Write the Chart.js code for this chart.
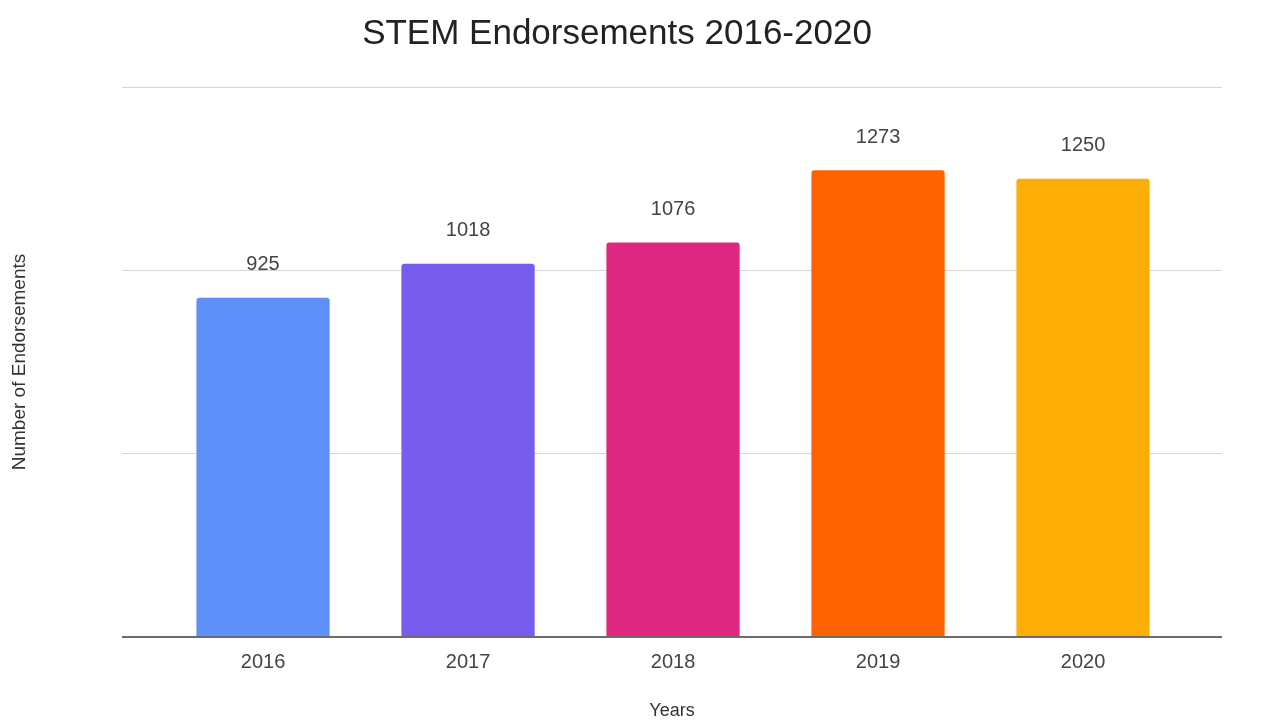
<!DOCTYPE html>
<html>
<head>
<meta charset="utf-8">
<script src="https://cdn.jsdelivr.net/npm/chart.js@4/dist/chart.umd.min.js"></script>
<style>
  html, body { margin: 0; padding: 0; background: #fff; }
  #wrap { width: 1266px; height: 722px; }
</style>
</head>
<body>
<div id="wrap"><canvas id="chart"></canvas></div>
<script>
const years = [2016, 2017, 2018, 2019, 2020];
const endorsements = [925, 1018, 1076, 1273, 1250];
const barColors = ["#5f8ff9", "#775ced", "#de2780", "#ff6200", "#fdae06"];
const yTicks = [0, 500, 1000, 1500];

const FONT = "'Liberation Sans', Arial, sans-serif";

// title drawn by hand so it can sit slightly left of centre like the original
const titlePlugin = {
  id: "stemTitle",
  afterDraw(chart) {
    const { ctx } = chart;
    ctx.save();
    ctx.font = `35px ${FONT}`;
    ctx.fillStyle = "#222";
    ctx.textAlign = "center";
    ctx.textBaseline = "middle";
    ctx.fillText("STEM Endorsements 2016-2020", 617, 34);
    ctx.restore();
  },
};

const valueLabels = {
  id: "valueLabels",
  afterDatasetsDraw(chart) {
    const { ctx } = chart;
    const meta = chart.getDatasetMeta(0);
    ctx.save();
    ctx.font = `20px ${FONT}`;
    ctx.fillStyle = "#444";
    ctx.textAlign = "center";
    ctx.textBaseline = "middle";
    meta.data.forEach((bar, i) => {
      ctx.fillText(String(endorsements[i]), bar.x, bar.y - 33);
    });
    ctx.restore();
  },
};

const ctx = document.getElementById("chart").getContext("2d");

new Chart(ctx, {
  type: "bar",
  data: {
    datasets: [
      {
        label: "Endorsements",
        data: years.map((y, i) => ({ x: y, y: endorsements[i] })),
        backgroundColor: barColors,
        borderRadius: { topLeft: 3, topRight: 3 },
        borderSkipped: "bottom",
        barPercentage: 0.65,
        categoryPercentage: 1,
      },
    ],
  },
  options: {
    responsive: true,
    maintainAspectRatio: false,
    animation: false,
    layout: { padding: { top: 87, right: 44, left: 0, bottom: 0 } },
    plugins: {
      legend: { display: false },
      tooltip: { enabled: false },
      title: { display: false },
    },
    scales: {
      x: {
        type: "linear",
        offset: false,
        min: 2015.312,
        max: 2020.678,
        afterBuildTicks: (scale) => {
          scale.ticks = years.map((v) => ({ value: v }));
        },
        afterFit: (scale) => {
          scale.height = 85;
        },
        grid: { display: false, drawTicks: false, offset: false },
        border: { display: false },
        ticks: {
          color: "#444",
          font: { family: FONT, size: 20 },
          padding: 13,
          maxRotation: 0,
          callback: (value) => String(value),
        },
        title: {
          display: true,
          text: "Years",
          color: "#333",
          font: { family: FONT, size: 18 },
          padding: { top: 0, bottom: 0 },
        },
      },
      y: {
        min: 0,
        max: 1500,
        afterBuildTicks: (scale) => {
          scale.ticks = yTicks.map((v) => ({ value: v }));
        },
        afterFit: (scale) => {
          scale.width = 122;
        },
        grid: {
          drawTicks: false,
          color: (c) => (c.tick && c.tick.value === 0 ? "#6b6b6b" : "#d6d6d6"),
          lineWidth: (c) => (c.tick && c.tick.value === 0 ? 2 : 1),
        },
        border: { display: false },
        ticks: { display: false },
        title: {
          display: true,
          text: "Number of Endorsements",
          color: "#333",
          font: { family: FONT, size: 19 },
          padding: { top: 8, bottom: 0 },
        },
      },
    },
  },
  plugins: [titlePlugin, valueLabels],
});
</script>
</body>
</html>
